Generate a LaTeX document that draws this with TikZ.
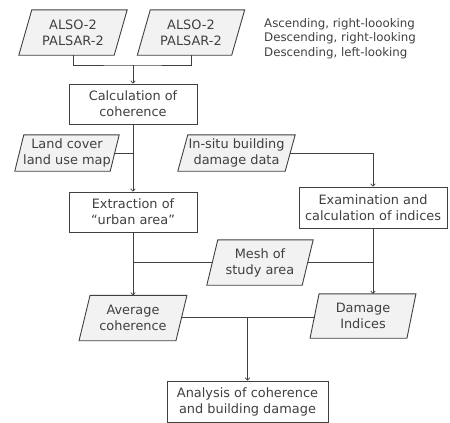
\documentclass[tikz,border=0pt]{standalone}
\usepackage{fontspec}
\setmainfont{DejaVu Sans}
\usetikzlibrary{arrows.meta,backgrounds}
\definecolor{ink}{HTML}{404040}
\definecolor{pfill}{HTML}{F2F2F2}
\newcommand\drawpara[2]{%
  \begin{scope}[on background layer]
    \filldraw[parabox] ([xshift=#2]#1.north west) -- ([xshift=#2]#1.north east)
      -- ([xshift=-#2]#1.south east) -- ([xshift=-#2]#1.south west) -- cycle;
  \end{scope}}
\begin{document}
\begin{tikzpicture}[x=1pt,y=-1pt,
  every node/.style={font=\fontsize{12.9}{16}\selectfont, text=ink, align=center, inner sep=0pt},
  procbox/.style={draw=ink, line width=0.9pt, fill=white},
  paracore/.style={},
  parabox/.style={draw=ink, line width=0.9pt, fill=pfill},
  conn/.style={draw=ink, line width=0.8pt},
  arr/.style={conn, -{To[length=3pt,width=5pt]}},
  legend/.style={align=left, anchor=west, font=\fontsize{11.8}{14.5}\selectfont}]
\useasboundingbox (0,0) rectangle (450,423);
% inputs
\node[paracore, minimum width=95, minimum height=45] (p1) at (73,32.5) {ALSO-2\\PALSAR-2};
\drawpara{p1}{6.5}
\node[paracore, minimum width=94, minimum height=45] (p2) at (191,32.5) {ALSO-2\\PALSAR-2};
\drawpara{p2}{6.5}
\node[legend] (leg) at (264,38.5) {Ascending, right-loooking\\Descending, right-looking\\Descending, left-looking};
% processes
\node[procbox, minimum width=128, minimum height=40] (calc) at (133,104) {Calculation of\\coherence};
\node[paracore, minimum width=95, minimum height=36] (land) at (67,153) {Land cover\\land use map};
\drawpara{land}{4.5}
\node[paracore, minimum width=107, minimum height=36] (insitu) at (236.5,153) {In-situ building\\damage data};
\drawpara{insitu}{5}
\node[procbox, minimum width=128, minimum height=40] (extr) at (133,212) {Extraction of\\“urban area”};
\node[procbox, minimum width=148, minimum height=41] (exam) at (373,207.5) {Examination and\\calculation of indices};
\node[paracore, minimum width=95, minimum height=45] (mesh) at (260,262.5) {Mesh of\\study area};
\drawpara{mesh}{5.5}
\node[paracore, minimum width=96.5, minimum height=45] (avg) at (133,318) {Average\\coherence};
\drawpara{avg}{5.5}
\node[paracore, minimum width=96.5, minimum height=44] (dmg) at (363,316) {Damage\\Indices};
\drawpara{dmg}{4.5}
\node[procbox, minimum width=161, minimum height=41] (ana) at (247.5,401.5) {Analysis of coherence\\and building damage};
% connectors
\coordinate (j1) at (133,65);
\draw[conn] (p1.south) |- (j1) -| (p2.south);
\draw[arr] (j1) -- (calc.north);
\draw[arr] (calc.south) -- (extr.north);
\draw[conn] (land.east) -- (land.east -| calc.south);
\draw[arr] (insitu.east) -| (exam.north);
\draw[arr] (extr.south) -- (extr.south |- avg.north);
\draw[conn] (mesh.west) -- (mesh.west -| extr.south);
\draw[conn] (mesh.east) -- (mesh.east -| exam.south);
\draw[arr] (exam.south) -- (exam.south |- dmg.north);
\coordinate (j2) at (ana.north |- 0,317);
\draw[conn] (avg.east |- j2) -- (dmg.west |- j2);
\draw[arr] (j2) -- (ana.north);
\end{tikzpicture}
\end{document}
